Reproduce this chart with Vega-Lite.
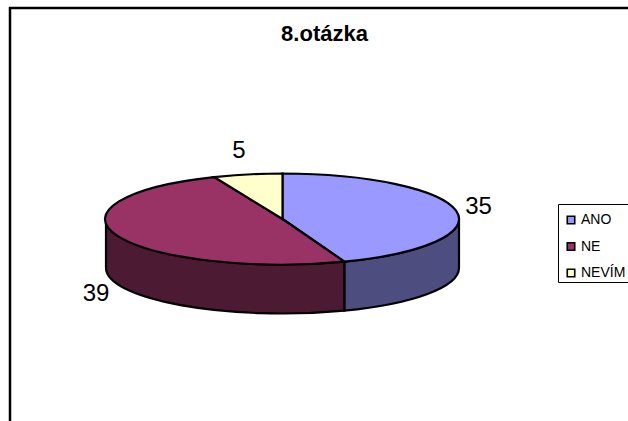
{"$schema":"https://vega.github.io/schema/vega-lite/v6.json","width":625,"height":422,"autosize":{"type":"none"},"padding":{"left":10,"top":8,"right":0,"bottom":0},"background":"white","view":{"stroke":"black","strokeWidth":2.5,"fill":"white"},"title":{"text":"8.otázka","font":"Liberation Sans","fontWeight":"bold","fontSize":22,"color":"black","anchor":"middle","offset":-38,"dx":2},"data":{"values":[{"answer":"ANO","count":35},{"answer":"NE","count":39},{"answer":"NEVÍM","count":5}]},"layer":[{"transform":[{"filter":"datum.answer !== 'NEVÍM'"}],"mark":{"type":"point","filled":true,"size":4,"opacity":1,"stroke":"black","strokeWidth":2.2},"encoding":{"fill":{"field":"answer","type":"nominal","legend":null,"scale":{"domain":["ANO","NE"],"range":["#4d4d80","#4d1a33"]}},"shape":{"field":"answer","type":"nominal","legend":null,"scale":{"domain":["ANO","NE"],"range":["M136.5,0 L136.5,49 A176.5,45.5 0 0 1 21.84,91.62 L21.84,42.62 A176.5,45.5 0 0 0 136.5,0 Z","M21.84,42.62 L21.84,91.62 A176.5,45.5 0 0 1 -216.5,49 L-216.5,0 A176.5,45.5 0 0 0 21.84,42.62 Z"]}}}},{"mark":{"type":"point","filled":true,"size":4,"opacity":1,"stroke":"black","strokeWidth":2.2},"encoding":{"color":{"field":"answer","type":"nominal","scale":{"domain":["ANO","NE","NEVÍM"],"range":["#9999ff","#993366","#ffffcc"]},"legend":{"title":" ","titleFontSize":6,"titlePadding":1,"orient":"none","legendX":548,"legendY":196,"symbolType":"square","symbolSize":56,"symbolStrokeColor":"black","symbolStrokeWidth":1.6,"symbolOpacity":1,"symbolOffset":4,"labelFont":"Liberation Sans","labelFontSize":14,"labelColor":"black","labelOffset":3,"rowPadding":12.5,"strokeColor":"black","padding":2,"fillColor":"white"}},"shape":{"field":"answer","type":"nominal","legend":null,"scale":{"domain":["ANO","NE","NEVÍM"],"range":["M-40,0 L-40,-45.5 A176.5,45.5 0 0 1 21.84,42.62 Z","M-40,0 L21.84,42.62 A176.5,45.5 0 0 1 -108.4,-41.95 Z","M-40,0 L-108.4,-41.95 A176.5,45.5 0 0 1 -40,-45.5 Z"]}}}},{"mark":{"type":"text","font":"Liberation Sans","fontSize":24,"color":"black","baseline":"middle","align":"center"},"encoding":{"text":{"field":"count","type":"quantitative"},"x":{"field":"count","type":"quantitative","axis":null,"scale":{"domain":[5,35,39],"range":[229,468.5,86],"nice":false,"zero":false}},"y":{"field":"count","type":"quantitative","axis":null,"scale":{"domain":[5,35,39],"range":[143,199,286],"nice":false,"zero":false}}}}],"resolve":{"scale":{"shape":"independent"}}}
